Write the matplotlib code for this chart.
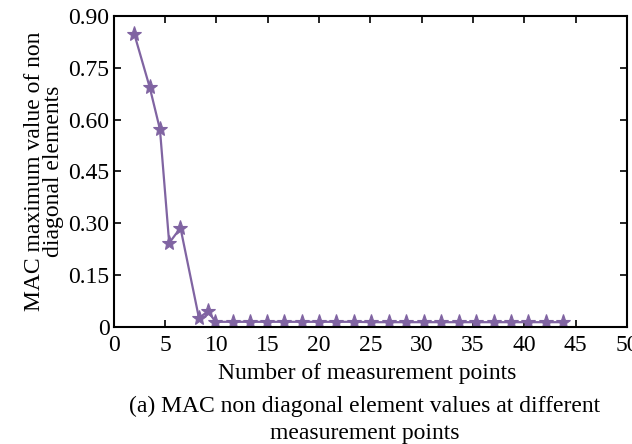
import numpy as np
import matplotlib.pyplot as plt

# MAC max off-diagonal value vs. number of measurement points
n_points = [2.0, 3.5, 4.5, 5.4, 6.5, 8.3, 9.2, 9.9,
            11.6, 13.3, 14.9, 16.6, 18.3, 20.0, 21.7, 23.4, 25.1, 26.8,
            28.5, 30.2, 31.9, 33.6, 35.3, 37.0, 38.7, 40.4, 42.1, 43.8]
mac_max = [0.848, 0.694, 0.572, 0.243, 0.287, 0.026, 0.046, 0.015,
           0.015, 0.015, 0.015, 0.015, 0.015, 0.015, 0.015, 0.015, 0.014, 0.014,
           0.014, 0.014, 0.014, 0.014, 0.014, 0.014, 0.014, 0.014, 0.014, 0.014]

x_ticks = [0, 5, 10, 15, 20, 25, 30, 35, 40, 45, 50]
y_ticks = [0, 0.15, 0.30, 0.45, 0.60, 0.75, 0.90]
y_labels = ['0', '0.15', '0.30', '0.45', '0.60', '0.75', '0.90']

plt.rcParams['font.family'] = ['Liberation Serif', 'DejaVu Serif']
plt.rcParams['font.size'] = 17

fig = plt.figure(figsize=(6.32, 4.44), dpi=100)
ax = fig.add_axes([0.180, 0.2635, 0.812, 0.7005])

ax.plot(n_points, mac_max, color='#8064A2', linewidth=1.6,
        marker='*', markersize=11, markeredgewidth=0.8)

ax.set_xlim(0, 50)
ax.set_ylim(0, 0.90)
ax.set_xticks(x_ticks)
ax.set_yticks(y_ticks)
ax.set_yticklabels(y_labels)
ax.tick_params(direction='in', length=5, width=1.2, top=True, right=True,
               labelsize=17)
ax.tick_params(axis='x', pad=6)
ax.tick_params(axis='y', pad=3)
for s in ax.spines.values():
    s.set_linewidth(1.5)

ax.set_xlabel('Number of measurement points', fontsize=17)
ax.xaxis.set_label_coords(0.494, -0.115)
ax.set_ylabel('MAC maximum value of non\ndiagonal elements', fontsize=17,
              labelpad=3, linespacing=0.92)

fig.text(0.577, 0.0, '(a) MAC non diagonal element values at different\nmeasurement points',
         ha='center', va='bottom', fontsize=17, linespacing=1.35)

fig.savefig('out.png', dpi=100)
